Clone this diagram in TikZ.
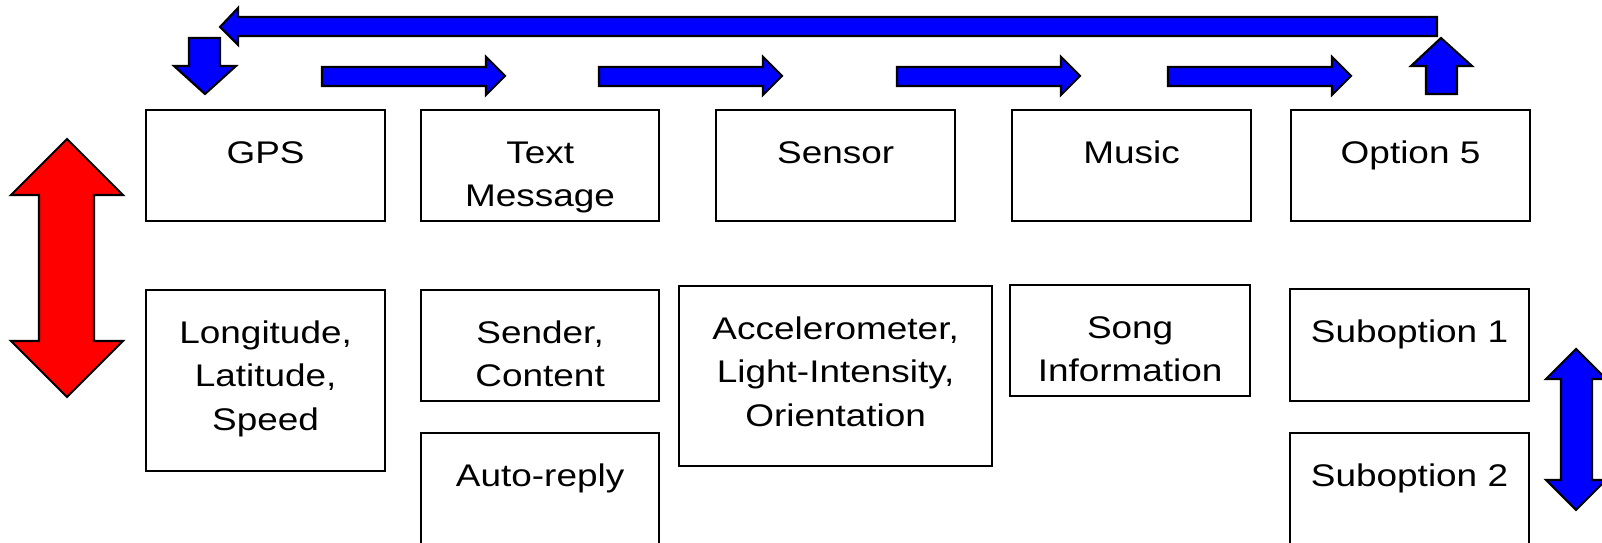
\documentclass[tikz,border=0pt]{standalone}
\usepackage{fontspec}
\setmainfont{Liberation Sans}[FakeStretch=1.18]
\definecolor{arrowblue}{HTML}{0000FF}
\definecolor{arrowred}{HTML}{FF0000}
\tikzset{
  box/.style={draw=black, line width=0.6pt, anchor=north west, inner sep=0pt},
  boxtext/.style={
    anchor=base,
    align=center,
    text width=3.2cm,
    inner sep=0pt,
    font=\fontsize{8.9}{12.5}\selectfont
  },
  blockarrow/.style={draw=black, line width=0.6pt, line join=miter}
}

\begin{document}
\begin{tikzpicture}[x=0.01cm,y=-0.01cm]
  \path[use as bounding box] (0,0) rectangle (1602,543);

  % top row
  \node[box, minimum width=2.39cm, minimum height=1.11cm] (gps) at (145,109) {};
  \node[box, minimum width=2.38cm, minimum height=1.11cm] (txt) at (420,109) {};
  \node[box, minimum width=2.39cm, minimum height=1.11cm] (sensor) at (715,109) {};
  \node[box, minimum width=2.39cm, minimum height=1.11cm] (music) at (1011,109) {};
  \node[box, minimum width=2.39cm, minimum height=1.11cm] (opt) at (1290,109) {};

  % bottom row
  \node[box, minimum width=2.39cm, minimum height=1.81cm] (gpsinfo) at (145,289) {};
  \node[box, minimum width=2.38cm, minimum height=1.11cm] (sender) at (420,289) {};
  \node[box, minimum width=2.38cm, minimum height=1.14cm] (autoreply) at (420,432) {};
  \node[box, minimum width=3.13cm, minimum height=1.80cm] (sensinfo) at (678,285) {};
  \node[box, minimum width=2.40cm, minimum height=1.11cm] (song) at (1009,284) {};
  \node[box, minimum width=2.39cm, minimum height=1.12cm] (subA) at (1289,288) {};
  \node[box, minimum width=2.39cm, minimum height=1.14cm] (subB) at (1289,432) {};

  \node[boxtext] (gpsT) at ([yshift=-0.54cm]gps.north) {GPS};
  \node[boxtext] (txtT) at ([yshift=-0.54cm]txt.north) {Text\\Message};
  \node[boxtext] (sensorT) at ([yshift=-0.54cm]sensor.north) {Sensor};
  \node[boxtext] (musicT) at ([yshift=-0.54cm]music.north) {Music};
  \node[boxtext] (optT) at ([yshift=-0.54cm]opt.north) {Option 5};

  \node[boxtext] (gpsinfoT) at ([yshift=-0.54cm]gpsinfo.north) {Longitude,\\Latitude,\\Speed};
  \node[boxtext] (senderT) at ([yshift=-0.54cm]sender.north) {Sender,\\Content};
  \node[boxtext] (autoreplyT) at ([yshift=-0.54cm]autoreply.north) {Auto-reply};
  \node[boxtext] (sensinfoT) at ([yshift=-0.54cm]sensinfo.north) {Accelerometer,\\Light-Intensity,\\Orientation};
  \node[boxtext] (songT) at ([yshift=-0.54cm]song.north) {Song\\Information};
  \node[boxtext] (subAT) at ([yshift=-0.54cm]subA.north) {Suboption 1};
  \node[boxtext] (subBT) at ([yshift=-0.54cm]subB.north) {Suboption 2};

  % block arrows
  \draw[blockarrow, fill=arrowblue] (220,27) -- (238,8) -- (238,17) -- (1437,17)
    -- (1437,36) -- (238,36) -- (238,45) -- cycle;
  \draw[blockarrow, fill=arrowblue] (189,38) -- (220,38) -- (220,66) -- (236,66)
    -- (205,94) -- (174,66) -- (189,66) -- cycle;
  \draw[blockarrow, fill=arrowblue] (1426,94) -- (1457,94) -- (1457,66) -- (1472,66)
    -- (1441,38) -- (1411,66) -- (1426,66) -- cycle;
  \foreach \xa in {322,599,897,1168}
    \draw[blockarrow, fill=arrowblue] (\xa,67) -- ({\xa+164},67) -- ({\xa+164},57)
      -- ({\xa+183},76) -- ({\xa+164},95) -- ({\xa+164},86) -- (\xa,86) -- cycle;

  \draw[blockarrow, fill=arrowred] (67,139) -- (123,195) -- (94,195) -- (94,341)
    -- (123,341) -- (67,397) -- (11,341) -- (39,341) -- (39,195) -- (11,195) -- cycle;
  \draw[blockarrow, fill=arrowblue] (1576,349) -- (1606,379) -- (1592,379) -- (1592,480)
    -- (1606,480) -- (1576,510) -- (1546,480) -- (1561,480) -- (1561,379) -- (1546,379) -- cycle;
\end{tikzpicture}
\end{document}
